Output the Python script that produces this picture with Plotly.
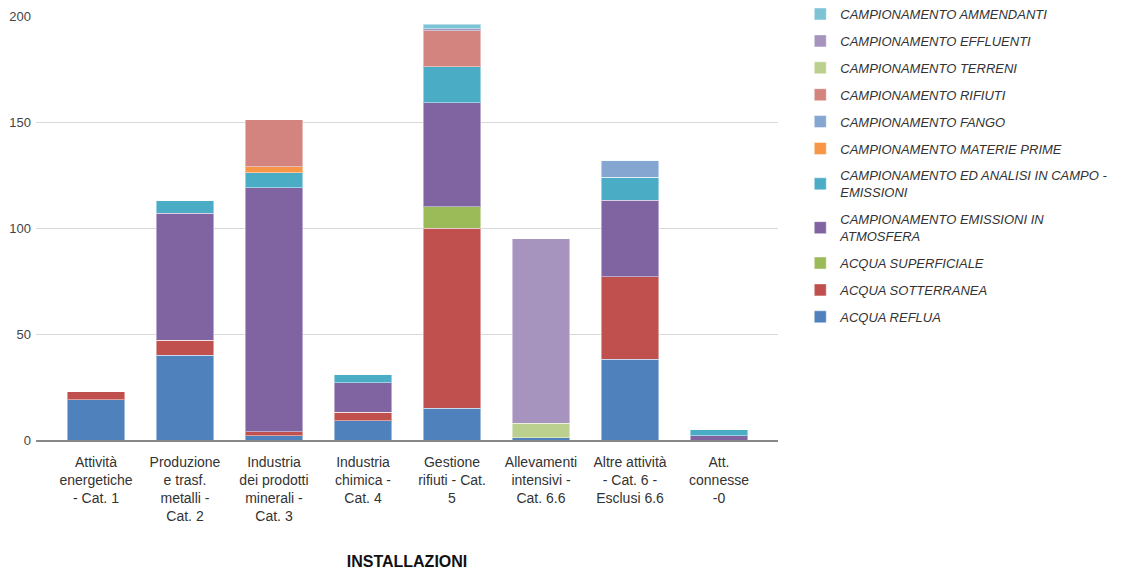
import plotly.graph_objects as go

categories = [
    "Attività<br>energetiche<br>- Cat. 1",
    "Produzione<br>e trasf.<br>metalli -<br>Cat. 2",
    "Industria<br>dei prodotti<br>minerali -<br>Cat. 3",
    "Industria<br>chimica -<br>Cat. 4",
    "Gestione<br>rifiuti - Cat.<br>5",
    "Allevamenti<br>intensivi -<br>Cat. 6.6",
    "Altre attività<br>- Cat. 6 -<br>Esclusi 6.6",
    "Att.<br>connesse<br>-0",
]

acqua_reflua = [19, 40, 2, 9, 15, 1, 38, 0]
acqua_sotterranea = [4, 7, 2, 4, 85, 0, 39, 0]
acqua_superficiale = [0, 0, 0, 0, 10, 0, 0, 0]
camp_emissioni_atm = [0, 60, 115, 14, 49, 0, 36, 2]
camp_analisi_campo = [0, 6, 7, 4, 17, 0, 11, 3]
camp_materie_prime = [0, 0, 3, 0, 0, 0, 0, 0]
camp_fango = [0, 0, 0, 0, 0, 0, 8, 0]
camp_rifiuti = [0, 0, 22, 0, 17, 0, 0, 0]
camp_terreni = [0, 0, 0, 0, 0, 7, 0, 0]
camp_effluenti = [0, 0, 0, 0, 1, 87, 0, 0]
camp_ammendanti = [0, 0, 0, 0, 2, 0, 0, 0]

series = [
    ("ACQUA REFLUA", acqua_reflua, "#4F81BD"),
    ("ACQUA SOTTERRANEA", acqua_sotterranea, "#C0504D"),
    ("ACQUA SUPERFICIALE", acqua_superficiale, "#9BBB59"),
    ("CAMPIONAMENTO EMISSIONI IN<br>ATMOSFERA", camp_emissioni_atm, "#8064A2"),
    ("CAMPIONAMENTO ED ANALISI IN CAMPO -<br>EMISSIONI", camp_analisi_campo, "#4BACC6"),
    ("CAMPIONAMENTO MATERIE PRIME", camp_materie_prime, "#F79646"),
    ("CAMPIONAMENTO FANGO", camp_fango, "#84A6D0"),
    ("CAMPIONAMENTO RIFIUTI", camp_rifiuti, "#D3847F"),
    ("CAMPIONAMENTO TERRENI", camp_terreni, "#BBD08E"),
    ("CAMPIONAMENTO EFFLUENTI", camp_effluenti, "#A694BF"),
    ("CAMPIONAMENTO AMMENDANTI", camp_ammendanti, "#7DC3D6"),
]

x_idx = list(range(len(categories)))
FONT = "Liberation Sans, Arial, sans-serif"

fig = go.Figure()
for i, (name, vals, color) in enumerate(series):
    fig.add_trace(go.Bar(
        x=x_idx, y=vals, name=name,
        marker=dict(color=color, line=dict(color="rgba(255,255,255,0.45)", width=1)),
        width=0.65,
        legendgroup=f"g{i}",
        legendrank=1000 - i,
    ))

fig.update_layout(
    barmode="stack",
    width=1122, height=569,
    margin=dict(l=28, r=352, t=8, b=137, autoexpand=False),
    plot_bgcolor="white", paper_bgcolor="white",
    font=dict(family=FONT, color="#333333"),
    showlegend=True,
    legend=dict(
        x=1.030, y=1.04, xanchor="left", yanchor="top",
        xref="paper", yref="paper",
        tracegroupgap=7,
        font=dict(size=13, color="#333333", family=FONT, style="italic"),
        itemwidth=30,
        maxheight=560,
    ),
    xaxis=dict(
        tickmode="array", tickvals=x_idx, ticktext=categories,
        range=[-0.674, 7.663], automargin=False,
        showgrid=False, showline=True, linecolor="#888888", linewidth=2,
        ticks="", ticklabelstandoff=8,
        tickfont=dict(size=14, color="#333333", family=FONT),
        title=dict(text="<b>INSTALLAZIONI</b>", font=dict(size=16, color="#111111", family=FONT), standoff=32),
        zeroline=False,
    ),
    yaxis=dict(
        range=[0, 200], tickvals=[0, 50, 100, 150, 200], automargin=False,
        showgrid=True, gridcolor="#d9d9d9", gridwidth=1,
        zeroline=False, showline=False, ticks="",
        ticklabelstandoff=4,
        tickfont=dict(size=13, color="#444444", family=FONT),
    ),
)

fig.write_html("out.html")
